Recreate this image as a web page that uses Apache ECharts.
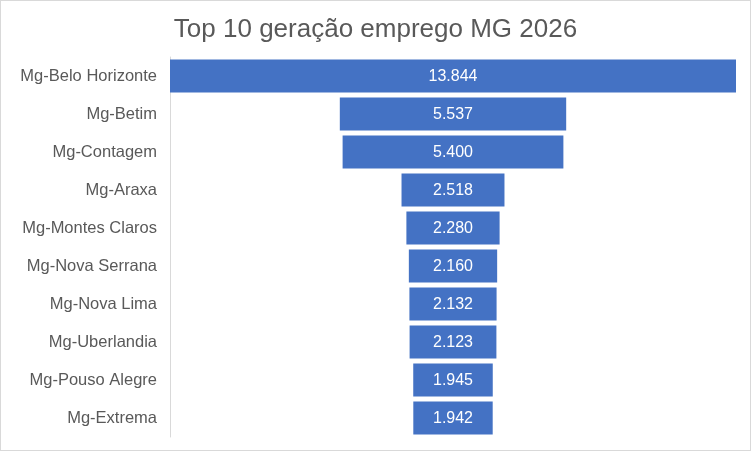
<!DOCTYPE html>
<html>
<head>
<meta charset="utf-8">
<script src="https://cdn.jsdelivr.net/npm/echarts@6/dist/echarts.min.js"></script>
<style>
html,body{margin:0;padding:0;background:#fff;}
#c{width:749px;height:449px;border:1px solid #D9D9D9;}
</style>
</head>
<body>
<div id="c"></div>
<script>
const categories = ["Mg-Belo Horizonte","Mg-Betim","Mg-Contagem","Mg-Araxa","Mg-Montes Claros","Mg-Nova Serrana","Mg-Nova Lima","Mg-Uberlandia","Mg-Pouso Alegre","Mg-Extrema"];
const values = [13844,5537,5400,2518,2280,2160,2132,2123,1945,1942];
const titleText = "Top 10 geração emprego MG 2026";

const maxV = Math.max(...values);
const offsets = values.map(v => (maxV - v) / 2);
const fmt = v => String(v).replace(/\B(?=(\d{3})+(?!\d))/g, ".");
const font = "'Liberation Sans', Arial, sans-serif";

const chart = echarts.init(document.getElementById('c'));
chart.setOption({
  animation: false,
  title: {
    text: titleText, left: 'center', top: 11,
    textStyle: { fontFamily: font, fontSize: 26, fontWeight: 'normal', color: '#595959' }
  },
  grid: { left: 169, right: 14, top: 56, bottom: 13, containLabel: false },
  xAxis: { type: 'value', min: 0, max: maxV, show: false },
  yAxis: {
    type: 'category', data: categories, inverse: true,
    axisLine: { show: true, lineStyle: { color: '#D9D9D9', width: 1 } },
    axisTick: { show: false },
    axisLabel: { fontFamily: font, fontSize: 16.5, color: '#595959', margin: 13, padding: [3, 0, 0, 0] }
  },
  series: [
    { type: 'bar', stack: 'f', data: offsets, itemStyle: { color: 'transparent' }, silent: true, barCategoryGap: '13%' },
    { type: 'bar', stack: 'f', data: values, itemStyle: { color: '#4472C4' }, barCategoryGap: '13%',
      label: { show: true, position: 'inside', offset: [0, 1], color: '#fff', fontFamily: font, fontSize: 16, formatter: p => fmt(p.value) } }
  ]
});
</script>
</body>
</html>
